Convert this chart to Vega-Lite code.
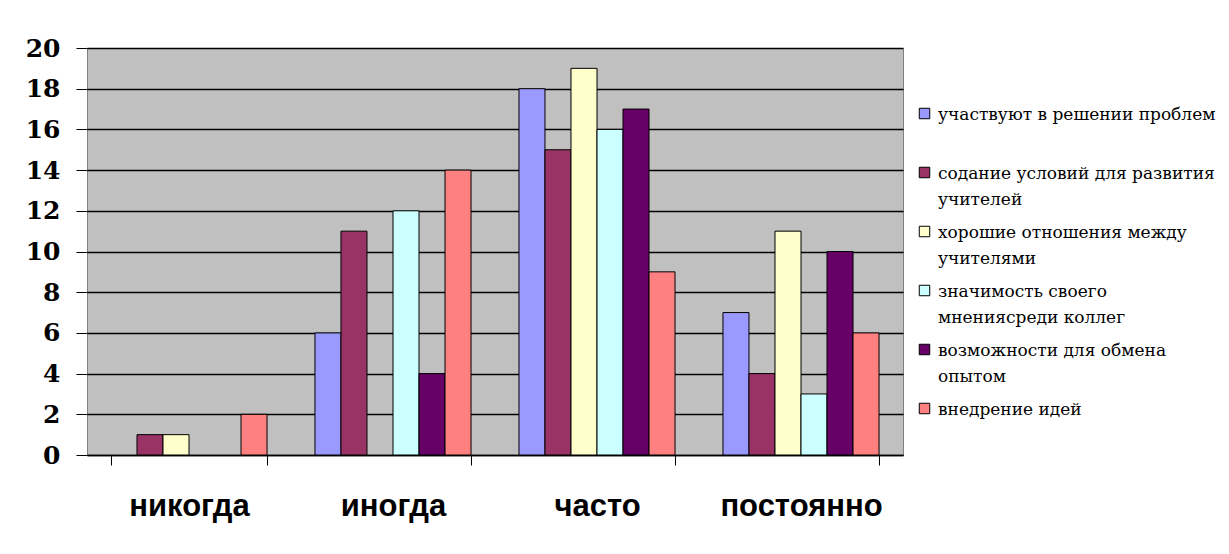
{
  "$schema": "https://vega.github.io/schema/vega-lite/v6.json",
  "width": 816,
  "height": 407,
  "autosize": "none",
  "padding": {"left": 87, "top": 48, "right": 326, "bottom": 99},
  "background": "white",
  "config": {
    "view": {"fill": "#C0C0C0", "stroke": "#808080", "strokeWidth": 1},
    "legend": {"labelFont": "DejaVu Serif"}
  },
  "data": {
    "values": [
      {"cat": "никогда", "s": "участвуют в решении проблем", "v": 0},
      {"cat": "никогда", "s": "содание условий для развития учителей", "v": 1},
      {"cat": "никогда", "s": "хорошие отношения между учителями", "v": 1},
      {"cat": "никогда", "s": "значимость своего мнениясреди коллег", "v": 0},
      {"cat": "никогда", "s": "возможности для обмена опытом", "v": 0},
      {"cat": "никогда", "s": "внедрение идей", "v": 2},
      {"cat": "иногда", "s": "участвуют в решении проблем", "v": 6},
      {"cat": "иногда", "s": "содание условий для развития учителей", "v": 11},
      {"cat": "иногда", "s": "хорошие отношения между учителями", "v": 0},
      {"cat": "иногда", "s": "значимость своего мнениясреди коллег", "v": 12},
      {"cat": "иногда", "s": "возможности для обмена опытом", "v": 4},
      {"cat": "иногда", "s": "внедрение идей", "v": 14},
      {"cat": "часто", "s": "участвуют в решении проблем", "v": 18},
      {"cat": "часто", "s": "содание условий для развития учителей", "v": 15},
      {"cat": "часто", "s": "хорошие отношения между учителями", "v": 19},
      {"cat": "часто", "s": "значимость своего мнениясреди коллег", "v": 16},
      {"cat": "часто", "s": "возможности для обмена опытом", "v": 17},
      {"cat": "часто", "s": "внедрение идей", "v": 9},
      {"cat": "постоянно", "s": "участвуют в решении проблем", "v": 7},
      {"cat": "постоянно", "s": "содание условий для развития учителей", "v": 4},
      {"cat": "постоянно", "s": "хорошие отношения между учителями", "v": 11},
      {"cat": "постоянно", "s": "значимость своего мнениясреди коллег", "v": 3},
      {"cat": "постоянно", "s": "возможности для обмена опытом", "v": 10},
      {"cat": "постоянно", "s": "внедрение идей", "v": 6}
    ]
  },
  "transform": [{"filter": "datum.v > 0"}],
  "mark": {"type": "bar", "stroke": "black", "strokeWidth": 1},
  "encoding": {
    "x": {
      "field": "cat",
      "type": "nominal",
      "sort": ["никогда", "иногда", "часто", "постоянно"],
      "scale": {"paddingInner": 0.235, "paddingOuter": 0.1175},
      "axis": {
        "title": null,
        "labelAngle": 0,
        "labelFont": "Liberation Sans",
        "labelFontWeight": "bold",
        "labelFontSize": 31,
        "labelColor": "black",
        "labelPadding": 26,
        "tickBand": "extent",
        "tickSize": 10,
        "tickColor": "black",
        "domainColor": "black",
        "domainWidth": 1.5,
        "grid": false
      }
    },
    "xOffset": {
      "field": "s",
      "type": "nominal",
      "sort": [
        "участвуют в решении проблем",
        "содание условий для развития учителей",
        "хорошие отношения между учителями",
        "значимость своего мнениясреди коллег",
        "возможности для обмена опытом",
        "внедрение идей"
      ],
      "scale": {"paddingInner": 0, "paddingOuter": 0}
    },
    "y": {
      "field": "v",
      "type": "quantitative",
      "scale": {"domain": [0, 20], "nice": false},
      "axis": {
        "title": null,
        "values": [0, 2, 4, 6, 8, 10, 12, 14, 16, 18, 20],
        "labelFont": "DejaVu Serif",
        "labelFontWeight": "bold",
        "labelFontSize": 25,
        "labelColor": "black",
        "labelPadding": 16,
        "tickSize": 11,
        "tickColor": "black",
        "domain": false,
        "grid": true,
        "gridColor": "black",
        "gridWidth": 1.5,
        "gridOpacity": 1
      }
    },
    "color": {
      "field": "s",
      "type": "nominal",
      "sort": [
        "участвуют в решении проблем",
        "содание условий для развития учителей",
        "хорошие отношения между учителями",
        "значимость своего мнениясреди коллег",
        "возможности для обмена опытом",
        "внедрение идей"
      ],
      "scale": {
        "range": ["#9999FF", "#993366", "#FFFFCC", "#CCFFFF", "#660066", "#FF8080"]
      },
      "legend": {
        "title": null,
        "orient": "none",
        "legendX": 829,
        "legendY": 57,
        "symbolType": "square",
        "symbolSize": 110,
        "symbolStrokeColor": "black",
        "symbolStrokeWidth": 1,
        "symbolOpacity": 1,
        "labelFont": "DejaVu Serif",
        "labelFontSize": 17,
        "labelColor": "black",
        "labelLimit": 400,
        "labelOffset": 5,
        "labelBaseline": "top",
        "rowPadding": 15,
        "encode": {
          "labels": {
            "update": {
              "font": {"value": "DejaVu Serif"},
              "lineHeight": {"value": 26},
              "dy": {"value": -7}
            }
          }
        },
        "labelExpr": "datum.label == 'участвуют в решении проблем' ? ['участвуют в решении проблем', ''] : datum.label == 'содание условий для развития учителей' ? ['содание условий для развития', 'учителей'] : datum.label == 'хорошие отношения между учителями' ? ['хорошие отношения между', 'учителями'] : datum.label == 'значимость своего мнениясреди коллег' ? ['значимость своего', 'мнениясреди коллег'] : datum.label == 'возможности для обмена опытом' ? ['возможности для обмена', 'опытом'] : datum.label"
      }
    }
  }
}
